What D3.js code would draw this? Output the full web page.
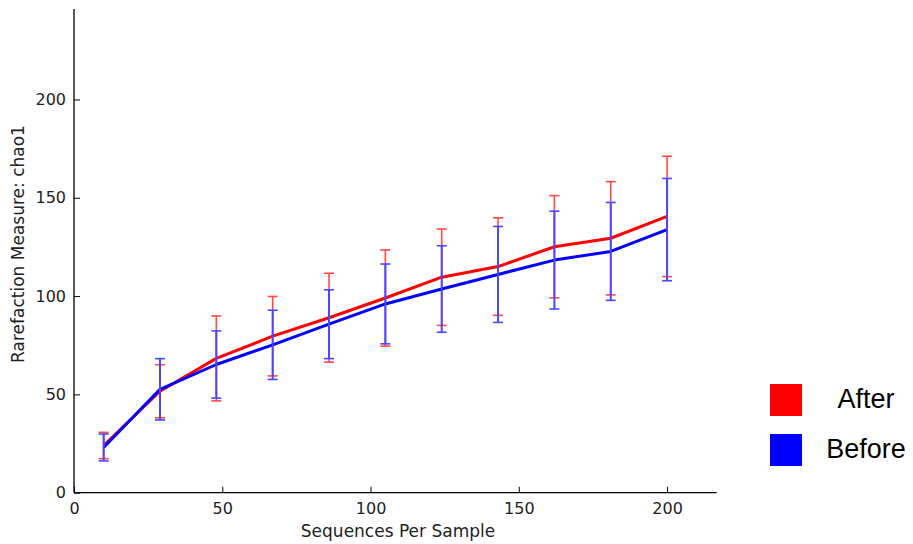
<!DOCTYPE html>
<html>
<head>
<meta charset="utf-8">
<script src="https://cdn.jsdelivr.net/npm/d3@7"></script>
<style>
  html, body { margin: 0; padding: 0; background: #fff; }
  svg { display: block; }
</style>
</head>
<body>
<svg id="chart" width="913" height="544"></svg>
<script>
// Sampling depths (sequences per sample)
const depths = [10, 29, 48, 67, 86, 105, 124, 143, 162, 181, 200];

// chao1 means and standard deviations per group
const afterMean = [24.0, 51.6, 68.3, 79.6, 89.0, 99.0, 109.6, 115.0, 125.1, 129.4, 140.5];
const afterErr  = [6.7, 13.5, 21.6, 20.2, 22.6, 24.5, 24.5, 24.8, 26.0, 28.8, 30.6];
const beforeMean = [23.0, 52.6, 65.2, 75.2, 85.7, 96.0, 103.6, 111.0, 118.3, 122.7, 133.8];
const beforeErr  = [6.85, 15.6, 17.1, 17.6, 17.5, 20.3, 22.0, 24.4, 24.9, 24.9, 26.0];

const xTicks = [0, 50, 100, 150, 200];
const yTicks = [0, 50, 100, 150, 200];

const groups = [
  { name: "After",  mean: afterMean,  err: afterErr,  color: "#ff0000", errColor: "#ff4848", errWidth: 1.6 },
  { name: "Before", mean: beforeMean, err: beforeErr, color: "#0000ff", errColor: "#4848ff", errWidth: 2.0 }
];

const svg = d3.select("#chart");
const plotLeft = 74, plotRight = 716.6, plotTop = 9, plotBottom = 492.7;

const x = d3.scaleLinear().domain([0, 216.7]).range([plotLeft, plotRight]);
const y = d3.scaleLinear().domain([0, 246]).range([plotBottom, plotTop]);

const font = "'DejaVu Sans', sans-serif";

// Series: line first, then its error bars
const line = d3.line().x((d, i) => x(depths[i])).y(d => y(d));
groups.forEach(g => {
  svg.append("path")
    .datum(g.mean)
    .attr("d", line)
    .attr("fill", "none")
    .attr("stroke", g.color)
    .attr("stroke-width", 3)
    .attr("stroke-linejoin", "round");

  const bars = svg.append("g").attr("stroke", g.errColor).attr("stroke-width", g.errWidth);
  depths.forEach((d, i) => {
    const lo = g.mean[i] - g.err[i], hi = g.mean[i] + g.err[i];
    const cx = x(d);
    bars.append("line").attr("x1", cx).attr("x2", cx).attr("y1", y(lo)).attr("y2", y(hi));
    [lo, hi].forEach(v => {
      bars.append("line").attr("x1", cx - 5).attr("x2", cx + 5).attr("y1", y(v)).attr("y2", y(v))
        .attr("stroke-width", 1.6);
    });
  });
});

// Axes with inward ticks, left and bottom spines only
const xAxis = svg.append("g").attr("transform", `translate(0,${plotBottom})`)
  .call(d3.axisBottom(x).tickValues(xTicks).tickSizeInner(-6).tickSizeOuter(0).tickPadding(10));
const yAxis = svg.append("g").attr("transform", `translate(${plotLeft},0)`)
  .call(d3.axisLeft(y).tickValues(yTicks).tickSizeInner(-6).tickSizeOuter(0).tickPadding(8));

[xAxis, yAxis].forEach(a => {
  a.select(".domain").attr("stroke", "#000").attr("stroke-width", 1.3);
  a.selectAll(".tick line").attr("stroke", "#000").attr("stroke-width", 1);
  a.selectAll(".tick text").attr("fill", "#222").style("font-family", font).style("font-size", "16px");
});
yAxis.select(".domain").attr("d", `M0,${plotBottom}V${plotTop}`);
xAxis.select(".domain").attr("d", `M${plotLeft},0H${plotRight}`);

// Axis titles
svg.append("text")
  .attr("x", 398).attr("y", 537)
  .attr("text-anchor", "middle")
  .attr("fill", "#222")
  .style("font-family", font).style("font-size", "17px")
  .text("Sequences Per Sample");

svg.append("text")
  .attr("transform", "translate(24,244) rotate(-90)")
  .attr("text-anchor", "middle")
  .attr("fill", "#222")
  .style("font-family", font).style("font-size", "17px")
  .text("Rarefaction Measure: chao1");

// Legend
const legend = svg.append("g");
groups.forEach((g, i) => {
  const ly = 384 + i * 50;
  legend.append("rect")
    .attr("x", 770).attr("y", ly).attr("width", 32).attr("height", 32)
    .attr("fill", g.color);
  legend.append("text")
    .attr("x", 866).attr("y", ly + 24)
    .attr("text-anchor", "middle")
    .attr("fill", "#000")
    .style("font-family", "'Liberation Sans', Arial, sans-serif").style("font-size", "27px")
    .text(g.name);
});
</script>
</body>
</html>
